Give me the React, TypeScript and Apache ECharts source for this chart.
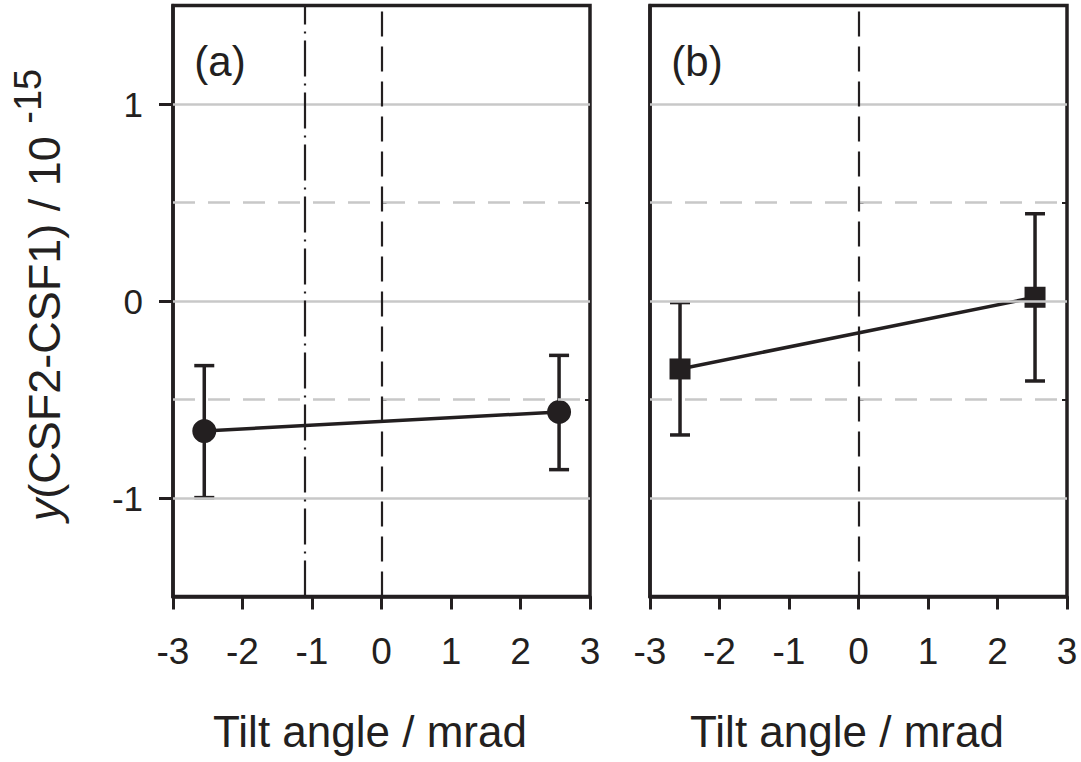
import React, { useEffect, useRef } from "react";
import * as echarts from "echarts";

// ---- data ----
const xTicks = [-3, -2, -1, 0, 1, 2, 3];
const yMajorTicks = [-1, 0, 1];
const yMinorTicks = [-0.5, 0.5];
const gridSolid = [-1, 0, 1];
const gridDashed = [-0.5, 0.5];

// panel (a)
const xA = [-2.55, 2.555];
const yA = [-0.66, -0.563];
const loA = [-0.998, -0.856];
const hiA = [-0.328, -0.276];
const vDashDotA = -1.1;

// panel (b)
const xB = [-2.568, 2.54];
const yB = [-0.345, 0.019];
const loB = [-0.68, -0.406];
const hiB = [-0.008, 0.443];

const vDashed = 0;

const INK = "#231f20";
const GRAY = "#c8c8c8";
const FONT = "'Liberation Sans', Arial, Helvetica, sans-serif";

function App() {
  const ref = useRef<HTMLDivElement>(null);

  useEffect(() => {
    if (!ref.current) return;
    const chart = echarts.init(ref.current, null, { renderer: "svg" });

    const gridLineData = (extraV: any[]) => [
      ...gridSolid.map((v) => ({ yAxis: v, lineStyle: { color: GRAY, width: 2.5, type: "solid" } })),
      ...gridDashed.map((v) => ({ yAxis: v, lineStyle: { color: GRAY, width: 2.5, type: [22, 13] } })),
      ...extraV,
    ];

    const errRender = (params: any, api: any) => {
      const x = api.value(0);
      const lo = api.coord([x, api.value(1)]);
      const hi = api.coord([x, api.value(2)]);
      const cap = 10;
      const st = { stroke: INK, lineWidth: 3.5 };
      return {
        type: "group",
        children: [
          { type: "line", shape: { x1: lo[0], y1: lo[1], x2: hi[0], y2: hi[1] }, style: st },
          { type: "line", shape: { x1: lo[0] - cap, y1: lo[1], x2: lo[0] + cap, y2: lo[1] }, style: st },
          { type: "line", shape: { x1: hi[0] - cap, y1: hi[1], x2: hi[0] + cap, y2: hi[1] }, style: st },
        ],
      };
    };

    const xAxisCfg = (gi: number) => ({
      type: "value",
      gridIndex: gi,
      min: -3,
      max: 3,
      interval: 1,
      axisLine: { show: true, onZero: false, lineStyle: { color: INK, width: 3.5 } },
      axisTick: { show: true, inside: false, length: 13, lineStyle: { color: INK, width: 3 } },
      axisLabel: {
        show: true,
        fontSize: 37,
        color: INK,
        fontFamily: FONT,
        margin: 36,
        showMinLabel: true,
        showMaxLabel: true,
        formatter: (v: number) => String(v),
      },
      splitLine: { show: false },
    });

    const yMain = (gi: number, labels: boolean) => ({
      type: "value",
      gridIndex: gi,
      min: -1.5,
      max: 1.5,
      interval: 0.5,
      position: "left",
      axisLine: { show: true, onZero: false, lineStyle: { color: INK, width: 3.5 } },
      axisTick: {
        show: labels,
        inside: false,
        length: 14,
        customValues: yMajorTicks,
        lineStyle: { color: INK, width: 3 },
      },
      axisLabel: {
        show: labels,
        customValues: yMajorTicks,
        fontSize: 35,
        color: INK,
        fontFamily: FONT,
        margin: 30,
        formatter: (v: number) => String(v),
      },
      splitLine: { show: false },
    });

    const yMinor = (gi: number, pos: string) => ({
      type: "value",
      gridIndex: gi,
      min: -1.5,
      max: 1.5,
      interval: 0.5,
      position: pos,
      axisLine: { show: false },
      axisTick: {
        show: true,
        inside: true,
        length: 5,
        customValues: yMinorTicks,
        lineStyle: { color: INK, width: 2 },
      },
      axisLabel: { show: false },
      splitLine: { show: false },
    });

    const option: any = {
      animation: false,
      backgroundColor: "#ffffff",
      grid: [
        { left: 173, top: 5.5, width: 417, height: 591, show: true, borderColor: INK, borderWidth: 3.5, backgroundColor: "transparent" },
        { left: 650, top: 5.5, width: 417, height: 591, show: true, borderColor: INK, borderWidth: 3.5, backgroundColor: "transparent" },
      ],
      xAxis: [xAxisCfg(0), xAxisCfg(1)],
      yAxis: [
        yMain(0, true),
        yMinor(0, "left"),
        yMinor(0, "right"),
        yMain(1, false),
        yMinor(1, "left"),
        yMinor(1, "right"),
      ],
      series: [
        // reference lines panel (a)
        {
          type: "line",
          xAxisIndex: 0,
          yAxisIndex: 0,
          data: [],
          z: 1,
          markLine: {
            silent: true,
            symbol: "none",
            label: { show: false },
            data: gridLineData([
              { xAxis: vDashDotA, lineStyle: { color: INK, width: 2.2, type: [36, 7, 2, 7] } },
              { xAxis: vDashed, lineStyle: { color: INK, width: 2.2, type: [25, 10] } },
            ]),
          },
        },
        // reference lines panel (b)
        {
          type: "line",
          xAxisIndex: 1,
          yAxisIndex: 3,
          data: [],
          z: 1,
          markLine: {
            silent: true,
            symbol: "none",
            label: { show: false },
            data: gridLineData([
              { xAxis: vDashed, lineStyle: { color: INK, width: 2.2, type: [25, 10] } },
            ]),
          },
        },
        // error bars
        {
          type: "custom",
          xAxisIndex: 0,
          yAxisIndex: 0,
          z: 3,
          renderItem: errRender,
          encode: { x: 0, y: [1, 2] },
          data: xA.map((x, i) => [x, loA[i], hiA[i]]),
        },
        {
          type: "custom",
          xAxisIndex: 1,
          yAxisIndex: 3,
          z: 3,
          renderItem: errRender,
          encode: { x: 0, y: [1, 2] },
          data: xB.map((x, i) => [x, loB[i], hiB[i]]),
        },
        // data lines
        {
          type: "line",
          xAxisIndex: 0,
          yAxisIndex: 0,
          z: 4,
          symbol: "circle",
          symbolSize: 24,
          itemStyle: { color: INK },
          lineStyle: { color: INK, width: 3.5 },
          data: xA.map((x, i) => [x, yA[i]]),
        },
        {
          type: "line",
          xAxisIndex: 1,
          yAxisIndex: 3,
          z: 4,
          symbol: "rect",
          symbolSize: 21,
          itemStyle: { color: INK },
          lineStyle: { color: INK, width: 3.5 },
          data: xB.map((x, i) => [x, yB[i]]),
        },
      ],
      graphic: [
        {
          type: "text",
          x: 220,
          y: 61,
          style: { text: "(a)", fontSize: 42, fontFamily: FONT, fill: INK, align: "center", verticalAlign: "middle" },
        },
        {
          type: "text",
          x: 697,
          y: 61,
          style: { text: "(b)", fontSize: 42, fontFamily: FONT, fill: INK, align: "center", verticalAlign: "middle" },
        },
        {
          type: "text",
          x: 370,
          y: 731,
          style: { text: "Tilt angle / mrad", fontSize: 44, fontFamily: FONT, fill: INK, align: "center", verticalAlign: "middle" },
        },
        {
          type: "text",
          x: 847,
          y: 731,
          style: { text: "Tilt angle / mrad", fontSize: 44, fontFamily: FONT, fill: INK, align: "center", verticalAlign: "middle" },
        },
        {
          type: "text",
          x: 44,
          y: 295,
          rotation: Math.PI / 2,
          style: {
            text: "{i|y}{m|(CSF2-CSF1) / 10 }{sup|-15}",
            fontSize: 45,
            fontFamily: FONT,
            fill: INK,
            align: "center",
            verticalAlign: "middle",
            rich: {
              i: { fontSize: 45, fontFamily: FONT, fontStyle: "italic", fill: INK, verticalAlign: "middle", lineHeight: 70 },
              m: { fontSize: 45, fontFamily: FONT, fill: INK, verticalAlign: "middle", lineHeight: 70 },
              sup: { fontSize: 38, fontFamily: FONT, fill: INK, verticalAlign: "top", lineHeight: 38 },
            },
          },
        },
      ],
    };

    chart.setOption(option);
    return () => chart.dispose();
  }, []);

  return (
    <div
      ref={ref}
      style={{ position: "absolute", left: 0, top: 0, width: 1081, height: 762, background: "#fff" }}
    />
  );
}

export default App;
